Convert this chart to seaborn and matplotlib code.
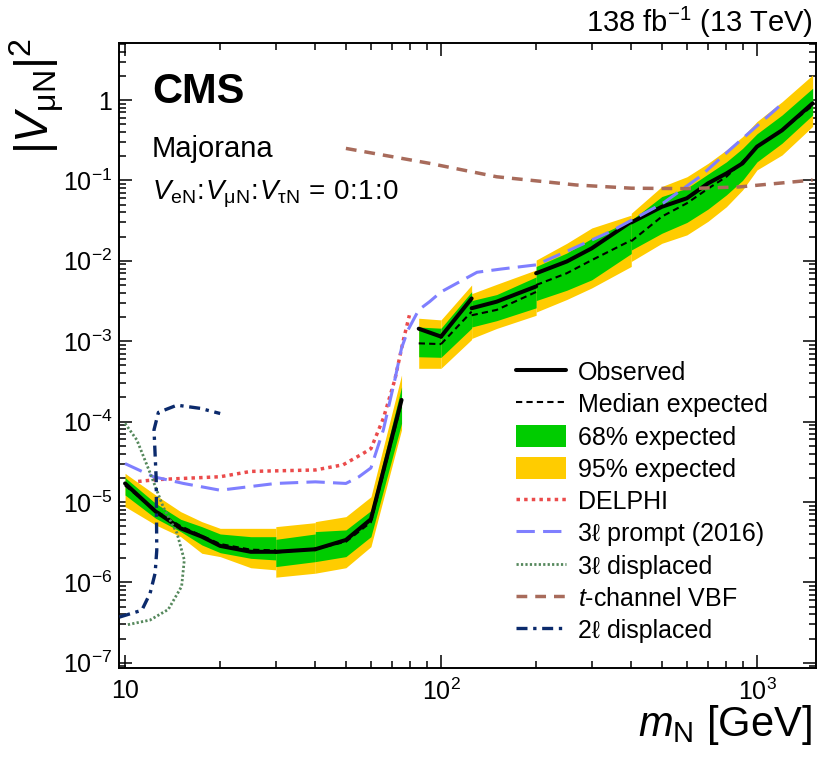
import numpy as np
import pandas as pd
import matplotlib
matplotlib.use("Agg")
import matplotlib.pyplot as plt
import seaborn as sns
from matplotlib.lines import Line2D
from matplotlib.patches import Patch
from matplotlib.ticker import FixedLocator, FuncFormatter, NullFormatter

# ---------------- data ----------------
mass = [10, 12.5, 15, 17.5, 20, 25, 30,
        30, 40,
        40, 50, 60, 75,
        85, 100,
        100, 125,
        125, 150, 200,
        200, 250, 300, 400,
        400, 500, 600, 700, 800, 900, 1000, 1200, 1500]
segment = [0]*7 + [1]*2 + [2]*4 + [3]*2 + [4]*2 + [5]*3 + [6]*4 + [7]*9
observed = [1.7e-5, 7.6e-6, 4.7e-6, 3.7e-6, 2.84e-6, 2.4e-6, 2.4e-6,
            2.4e-6, 2.58e-6,
            2.58e-6, 3.37e-6, 6.1e-6, 1.86e-4,
            1.43e-3, 1.14e-3,
            1.14e-3, 3.4e-3,
            2.57e-3, 3.1e-3, 4.8e-3,
            7.0e-3, 9.8e-3, 1.43e-2, 3.07e-2,
            3.0e-2, 4.7e-2, 6.0e-2, 9.2e-2, 0.122, 0.163, 0.263, 0.42, 0.91]
expected = [1.6e-5, 7.8e-6, 5.0e-6, 3.8e-6, 3.0e-6, 2.55e-6, 2.5e-6,
            2.35e-6, 2.6e-6,
            2.6e-6, 3.2e-6, 5.6e-6, 1.7e-4,
            9.4e-4, 9.2e-4,
            9.2e-4, 2.33e-3,
            2.1e-3, 2.45e-3, 4.1e-3,
            5.0e-3, 7.0e-3, 1.02e-2, 1.8e-2,
            1.75e-2, 3.55e-2, 5.2e-2, 7.9e-2, 0.111, 0.171, 0.26, 0.42, 0.85]
exp68_lo = [1.22e-5, 6.26e-6, 4.28e-6, 2.92e-6, 2.34e-6, 1.99e-6, 1.9e-6,
            1.57e-6, 1.81e-6,
            1.81e-6, 2.09e-6, 3.7e-6, 9.5e-5,
            6.4e-4, 6.3e-4,
            6.3e-4, 1.45e-3,
            1.5e-3, 1.8e-3, 2.6e-3,
            3.2e-3, 4.3e-3, 5.8e-3, 1.23e-2,
            1.36e-2, 2.2e-2, 3.0e-2, 4.4e-2, 6.6e-2, 0.10, 0.17, 0.29, 0.65]
exp68_hi = [2.01e-5, 9.6e-6, 6.09e-6, 4.93e-6, 4.0e-6, 3.7e-6, 3.7e-6,
            3.43e-6, 4.0e-6,
            4.28e-6, 4.49e-6, 7.8e-6, 2.7e-4,
            1.5e-3, 1.45e-3,
            1.45e-3, 4.13e-3,
            3.2e-3, 3.8e-3, 6.3e-3,
            8.5e-3, 1.25e-2, 1.9e-2, 3.2e-2,
            3.2e-2, 6.3e-2, 8.0e-2, 0.12, 0.17, 0.25, 0.38, 0.65, 1.4]
exp95_lo = [8.75e-6, 5.18e-6, 3.7e-6, 2.3e-6, 2.09e-6, 1.52e-6, 1.43e-6,
            1.16e-6, 1.3e-6,
            1.3e-6, 1.52e-6, 2.78e-6, 7.9e-5,
            4.6e-4, 4.6e-4,
            4.6e-4, 1.05e-3,
            1.08e-3, 1.44e-3, 2.1e-3,
            2.3e-3, 3.3e-3, 4.6e-3, 8.5e-3,
            9.8e-3, 1.65e-2, 2.1e-2, 3.1e-2, 4.7e-2, 7.6e-2, 0.135, 0.207, 0.47]
exp95_hi = [2.27e-5, 1.22e-5, 7.58e-6, 5.69e-6, 4.7e-6, 4.7e-6, 4.7e-6,
            4.93e-6, 5.53e-6,
            5.69e-6, 6.57e-6, 1.16e-5, 3.8e-4,
            1.93e-3, 1.84e-3,
            1.84e-3, 5.0e-3,
            3.9e-3, 5.1e-3, 7.7e-3,
            1.02e-2, 1.65e-2, 2.56e-2, 3.7e-2,
            3.9e-2, 8.4e-2, 0.111, 0.163, 0.239, 0.35, 0.54, 0.95, 2.05]

delphi_m = [11.0, 12.7, 20, 25, 40, 49, 56.6, 60, 65.7, 71.4, 76, 79.4]
delphi_v = [1.8e-5, 1.9e-5, 2.06e-5, 2.4e-5, 2.5e-5, 2.9e-5, 4.0e-5, 4.6e-5,
            1.1e-4, 3.3e-4, 1.03e-3, 2.1e-3]

prompt_m = [10, 12.3, 15.3, 20, 30, 40, 50, 55, 60, 65.7, 71.4, 75, 78.7, 85,
            92, 100, 130, 155, 200, 255, 343, 504, 659, 842, 1190]
prompt_v = [3.0e-5, 2.06e-5, 1.7e-5, 1.4e-5, 1.7e-5, 1.78e-5, 1.7e-5, 2.06e-5,
            2.65e-5, 7.9e-5, 3.3e-4, 8.2e-4, 1.39e-3, 2.45e-3, 3.1e-3, 4.1e-3,
            7.2e-3, 7.9e-3, 8.9e-3, 1.36e-2, 2.3e-2, 5.2e-2, 0.111, 0.263, 0.87]

disp3_m = [10.0, 10.9, 12.0, 13.2, 14.6, 15.4, 15.1, 13.7, 12.0, 10.1]
disp3_v = [9.5e-5, 5.9e-5, 2.3e-5, 8.7e-6, 4.1e-6, 1.9e-6, 8.9e-7, 4.6e-7,
           3.4e-7, 2.95e-7]

vbf_m = [50, 92, 150, 268, 400, 600, 880, 1500]
vbf_v = [0.25, 0.163, 0.111, 0.0877, 0.080, 0.079, 0.083, 0.101]

disp2_m = [9.6, 11.3, 12.0, 12.45, 12.6, 12.55, 12.35, 12.75, 14.6, 17.3, 20]
disp2_v = [3.7e-7, 4.5e-7, 7.3e-7, 1.3e-6, 2.5e-6, 1.9e-5, 7.9e-5, 1.3e-4,
           1.6e-4, 1.46e-4, 1.26e-4]

x_ticks = [10, 100, 1000]
x_ticklabels = ["10", r"$10^{2}$", r"$10^{3}$"]
y_ticks = [1e-7, 1e-6, 1e-5, 1e-4, 1e-3, 1e-2, 1e-1, 1]
y_ticklabels = [r"$10^{-7}$", r"$10^{-6}$", r"$10^{-5}$", r"$10^{-4}$",
                r"$10^{-3}$", r"$10^{-2}$", r"$10^{-1}$", "1"]

# ---------------- style ----------------
sns.set_style("ticks")
plt.rcParams['font.family'] = ['Liberation Sans', 'DejaVu Sans']
plt.rcParams['mathtext.fontset'] = 'custom'
plt.rcParams['mathtext.rm'] = 'Liberation Sans'
plt.rcParams['mathtext.it'] = 'Liberation Sans:italic'
plt.rcParams['mathtext.bf'] = 'Liberation Sans:bold'
plt.rcParams['mathtext.sf'] = 'Liberation Sans'
plt.rcParams['text.color'] = 'black'

C_GREEN = '#00cc00'
C_YELLOW = '#ffcc00'
C_DELPHI = '#eb4b4b'
C_PROMPT = '#7f7fff'
C_DISP3 = '#55885c'
C_VBF = '#a86b5b'
C_DISP2 = '#0b2a6c'

df = pd.DataFrame(dict(mass=mass, segment=segment, observed=observed,
                       expected=expected, lo68=exp68_lo, hi68=exp68_hi,
                       lo95=exp95_lo, hi95=exp95_hi))

fig = plt.figure(figsize=(8.3, 7.57), dpi=100)
ax = fig.add_axes([0.1434, 0.1176, 0.8397, 0.8256])
ax.set_xscale('log')
ax.set_yscale('log')

for seg, d in df.groupby('segment'):
    ax.fill_between(d['mass'], d['lo95'], d['hi95'], color=C_YELLOW, lw=0, zorder=1)
for seg, d in df.groupby('segment'):
    ax.fill_between(d['mass'], d['lo68'], d['hi68'], color=C_GREEN, lw=0, zorder=2)

sns.lineplot(data=df, x='mass', y='expected', units='segment', estimator=None,
             sort=False, color='black', lw=1.5, linestyle=(0, (3, 2)), ax=ax, zorder=3)
sns.lineplot(data=df, x='mass', y='observed', units='segment', estimator=None,
             sort=False, color='black', lw=2.9, ax=ax, zorder=4)

others = [
    (delphi_m, delphi_v, C_DELPHI, 2.5, (0, (1, 1.2))),
    (prompt_m, prompt_v, C_PROMPT, 2.2, (0, (6, 2.7))),
    (disp3_m, disp3_v, C_DISP3, 2.0, (0, (0.8, 0.8))),
    (vbf_m, vbf_v, C_VBF, 2.5, (0, (3.1, 2.3))),
    (disp2_m, disp2_v, C_DISP2, 2.4, (0, (3.3, 1.7, 1, 1.7))),
]
for mm, vv, col, lw, ls in others:
    sns.lineplot(x=mm, y=vv, sort=False, estimator=None, color=col, lw=lw,
                 linestyle=ls, ax=ax, zorder=5)

ax.set_xlim(9.57, 1537)
ax.set_ylim(8.61e-8, 5.12)

for s in ax.spines.values():
    s.set_linewidth(1.4)
    s.set_color('black')
ax.xaxis.set_major_locator(FixedLocator(x_ticks))
ax.xaxis.set_major_formatter(FuncFormatter(lambda v, p: x_ticklabels[x_ticks.index(v)] if v in x_ticks else ""))
ax.yaxis.set_major_locator(FixedLocator(y_ticks))
ax.yaxis.set_major_formatter(FuncFormatter(lambda v, p: y_ticklabels[y_ticks.index(v)] if v in y_ticks else ""))
ax.xaxis.set_minor_locator(matplotlib.ticker.LogLocator(base=10, subs=np.arange(2, 10), numticks=20))
ax.yaxis.set_minor_locator(matplotlib.ticker.LogLocator(base=10, subs=np.arange(2, 10), numticks=20))
ax.xaxis.set_minor_formatter(NullFormatter())
ax.yaxis.set_minor_formatter(NullFormatter())
ax.tick_params(which='both', direction='in', top=True, right=True, width=1.1,
               color='black', labelcolor='black')
ax.tick_params(which='major', length=9.5, labelsize=18)
ax.tick_params(which='minor', length=5)
ax.tick_params(axis='y', which='major', pad=5)
ax.tick_params(axis='x', which='major', pad=8)
ax.set_xlabel("")
ax.set_ylabel("")
ax.grid(False)

fig.text(0.978, 0.013, r"$m_{\mathrm{N}}$ [GeV]", ha='right', va='bottom', fontsize=30)
fig.text(0.010, 0.950, r"$|V_{\mathrm{\mu N}}|^{2}$", ha='left', va='top', rotation=90, fontsize=33)
fig.text(0.979, 0.958, r"138 fb$^{-1}$ (13 TeV)", ha='right', va='baseline', fontsize=21)
fig.text(0.183, 0.864, "CMS", ha='left', va='baseline', fontsize=30, fontweight='bold')
fig.text(0.183, 0.792, "Majorana", ha='left', va='baseline', fontsize=21)
fig.text(0.183, 0.736, r"$V_{\mathrm{eN}}\!:\!V_{\mathrm{\mu N}}\!:\!V_{\mathrm{\tau N}}\,=\,0\!:\!1\!:\!0$",
         ha='left', va='baseline', fontsize=20)

handles = [
    Line2D([], [], color='black', lw=2.9),
    Line2D([], [], color='black', lw=1.5, linestyle=(0, (3, 2))),
    Patch(facecolor=C_GREEN, edgecolor='none'),
    Patch(facecolor=C_YELLOW, edgecolor='none'),
    Line2D([], [], color=C_DELPHI, lw=2.5, linestyle=(0, (1, 1.2))),
    Line2D([], [], color=C_PROMPT, lw=2.2, linestyle=(0, (6, 2.7))),
    Line2D([], [], color=C_DISP3, lw=2.0, linestyle=(0, (0.8, 0.8))),
    Line2D([], [], color=C_VBF, lw=2.5, linestyle=(0, (3.1, 2.3))),
    Line2D([], [], color=C_DISP2, lw=2.4, linestyle=(0, (3.3, 1.7, 1, 1.7))),
]
labels = ["Observed", "Median expected", "68% expected", "95% expected", "DELPHI",
          "3ℓ prompt (2016)", "3ℓ displaced", r"$t$-channel VBF", "2ℓ displaced"]
leg = fig.legend(handles, labels, loc='upper left', bbox_to_anchor=(0.622, 0.524),
                 frameon=False, fontsize=18, handlelength=2.0, handleheight=1.0,
                 handletextpad=0.45, labelspacing=0.30, borderpad=0, borderaxespad=0)
for t in leg.get_texts():
    t.set_color('black')

fig.savefig("out.png", dpi=100)
